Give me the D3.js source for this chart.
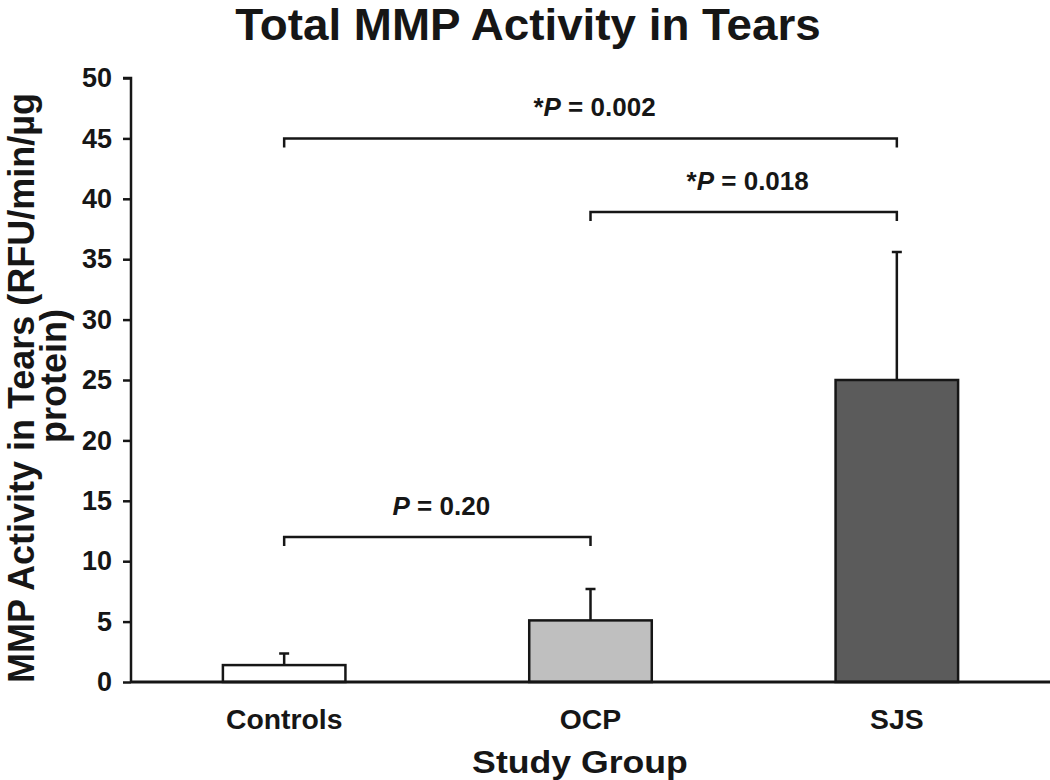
<!DOCTYPE html>
<html>
<head>
<meta charset="utf-8">
<script src="https://cdn.jsdelivr.net/npm/d3@7"></script>
<style>
  html, body { margin: 0; padding: 0; background: #fff; }
  svg { display: block; font-family: "Liberation Sans", Arial, Helvetica, sans-serif; font-weight: bold; }
</style>
</head>
<body>
<svg id="chart" width="1050" height="780"></svg>
<script>
// ---- data ----
const categories = ["Controls", "OCP", "SJS"];
const means = [1.4, 5.1, 25.0];
const errors = [0.95, 2.6, 10.6];
const fills = ["#ffffff", "#bfbfbf", "#5b5b5b"];
const yTicks = [0, 5, 10, 15, 20, 25, 30, 35, 40, 45, 50];
const compFrom = ["Controls", "OCP", "Controls"];
const compTo = ["SJS", "SJS", "OCP"];
const compLevel = [45.0, 38.9, 12.0];
const compStar = ["*", "*", ""];
const compP = ["0.002", "0.018", "0.20"];
const titleText = "Total MMP Activity in Tears";
const yLabelLines = ["MMP Activity in Tears (RFU/min/µg", "protein)"];
const xLabelText = "Study Group";

// ---- layout ----
const svg = d3.select("#chart");
const ink = "#161616";
const axisX = 131, axisRight = 1050, y0 = 682, yTop = 78;

const x = d3.scaleBand().domain(categories).range([axisX, axisRight])
  .paddingInner(0.6).paddingOuter(0.3);
const y = d3.scaleLinear().domain([0, 50]).range([y0, yTop]);
const cx = c => x(c) + x.bandwidth() / 2;

function stretchedText(parent, tx, ty, sx, rot) {
  const g = parent.append("g")
    .attr("transform", `translate(${tx},${ty}) scale(${sx},1)` + (rot ? ` rotate(${rot})` : ""));
  return g.append("text").attr("fill", ink);
}

// title
stretchedText(svg, 528, 40, 1.04).attr("text-anchor", "middle")
  .attr("font-size", 44).text(titleText);

// y axis
const yAxis = d3.axisLeft(y).tickValues(yTicks).tickSize(8).tickPadding(11);
const gy = svg.append("g").attr("transform", `translate(${axisX},0)`).call(yAxis);
gy.select(".domain").attr("stroke", ink).attr("stroke-width", 2.5)
  .attr("d", `M-8,${yTop}H0V${y0}`);
gy.selectAll(".tick line").attr("stroke", ink).attr("stroke-width", 2.5);
gy.selectAll(".tick text").attr("fill", ink).attr("font-size", 27)
  .attr("font-family", "Liberation Sans, Arial, sans-serif").attr("font-weight", "bold");

// y label (two lines, rotated)
stretchedText(svg, 34, 388, 1.0, -90).attr("text-anchor", "middle")
  .attr("font-size", 36).text(yLabelLines[0]);
stretchedText(svg, 66, 376, 1.0, -90).attr("text-anchor", "middle")
  .attr("font-size", 36).text(yLabelLines[1]);

// bars
svg.append("g").selectAll("rect").data(categories).join("rect")
  .attr("x", d => x(d)).attr("width", x.bandwidth())
  .attr("y", (d, i) => y(means[i])).attr("height", (d, i) => y(0) - y(means[i]))
  .attr("fill", (d, i) => fills[i]).attr("stroke", ink).attr("stroke-width", 2.5);

// error bars (upper only)
const eg = svg.append("g").attr("stroke", ink).attr("stroke-width", 2.5).attr("fill", "none");
eg.selectAll("path").data(categories).join("path")
  .attr("d", (d, i) => {
    const c = cx(d), t = y(means[i] + errors[i]), b = y(means[i]);
    return `M${c},${b}V${t}M${c - 5},${t}H${c + 5}`;
  });

// x axis
svg.append("line").attr("x1", axisX).attr("x2", axisRight).attr("y1", y0).attr("y2", y0)
  .attr("stroke", ink).attr("stroke-width", 3);

// category labels
categories.forEach(c => {
  stretchedText(svg, cx(c), 729, 1.05).attr("text-anchor", "middle")
    .attr("font-size", 27).text(c);
});

// x label
stretchedText(svg, 580, 773, 1.15).attr("text-anchor", "middle")
  .attr("font-size", 31).text(xLabelText);

// comparison brackets
const bg = svg.append("g").attr("stroke", ink).attr("stroke-width", 2.5).attr("fill", "none");
compFrom.forEach((f, i) => {
  const x1 = cx(f), x2 = cx(compTo[i]), yy = y(compLevel[i]);
  bg.append("path").attr("d", `M${x1},${yy + 9}V${yy}H${x2}V${yy + 9}`);
  const t = stretchedText(svg, (x1 + x2) / 2 + 4, yy - 22, 1.0).attr("text-anchor", "middle")
    .attr("font-size", 26);
  t.append("tspan").text(compStar[i]);
  t.append("tspan").attr("font-style", "italic").text("P");
  t.append("tspan").text(" = " + compP[i]);
});
</script>
</body>
</html>
